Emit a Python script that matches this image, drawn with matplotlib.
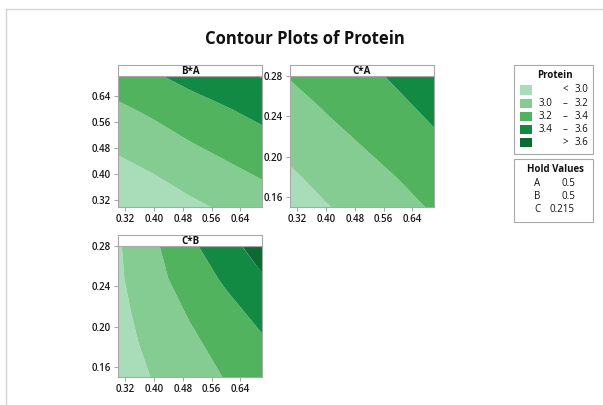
import numpy as np
import matplotlib
matplotlib.use("Agg")
import matplotlib.pyplot as plt
from matplotlib.patches import Rectangle
from matplotlib.lines import Line2D

plt.rcParams['font.family'] = ['Open Sans', 'DejaVu Sans']

# factor settings
ab_vals = [0.3, 0.4, 0.5, 0.6, 0.7]
c_vals = [0.15, 0.1825, 0.215, 0.2475, 0.28]

# protein (rows = y factor, cols = x factor)
z_ba = [[2.81, 2.88, 2.96, 3.03, 3.10],
        [2.93, 3.00, 3.08, 3.15, 3.22],
        [3.05, 3.12, 3.20, 3.27, 3.34],
        [3.17, 3.24, 3.32, 3.39, 3.46],
        [3.30, 3.38, 3.46, 3.53, 3.61]]
z_ca = [[2.91, 2.99, 3.06, 3.14, 3.22],
        [2.98, 3.06, 3.14, 3.21, 3.29],
        [3.06, 3.14, 3.21, 3.29, 3.37],
        [3.13, 3.21, 3.29, 3.36, 3.44],
        [3.21, 3.28, 3.35, 3.43, 3.51]]
z_cb = [[2.91, 3.01, 3.11, 3.21, 3.30],
        [2.93, 3.05, 3.16, 3.27, 3.37],
        [2.95, 3.09, 3.22, 3.34, 3.46],
        [2.97, 3.14, 3.29, 3.43, 3.58],
        [2.98, 3.17, 3.36, 3.53, 3.69]]

bounds = [0.0, 3.0, 3.2, 3.4, 3.6, 9.0]
colors = ['#a9dcb9', '#85cc93', '#52b35e', '#128a44', '#0c6a33']
leg_left = ['', '3.0', '3.2', '3.4', '']
leg_sign = ['<', '–', '–', '–', '>']
leg_right = ['3.0', '3.2', '3.4', '3.6', '3.6']
hold_names = ['A', 'B', 'C']
hold_vals = ['0.5', '0.5', '0.215']

ab_ticks = [0.32, 0.40, 0.48, 0.56, 0.64]
c_ticks = [0.16, 0.20, 0.24, 0.28]

W, H = 603, 405
fig = plt.figure(figsize=(W / 100, H / 100), dpi=100)
edge = '#a8a8a8'
fs = 7


def fx(px):
    return px / W


def fy(py):
    return 1 - py / H


def panel(l, t, r, b, x, y, z, title, ylim, yticks):
    ax = fig.add_axes([fx(l), fy(b), fx(r - l), (b - t) / H])
    ax.contourf(x, y, z, levels=bounds, colors=colors, antialiased=True)
    ax.set_xlim(0.3, 0.7)
    ax.set_ylim(*ylim)
    ax.set_xticks(ab_ticks)
    ax.set_xticklabels(['%.2f' % v for v in ab_ticks])
    ax.set_yticks(yticks)
    ax.set_yticklabels(['%.2f' % v for v in yticks])
    ax.tick_params(length=3, width=0.8, color=edge, labelsize=fs,
                   labelcolor='#1a1a1a', pad=2)
    for lab in ax.get_xticklabels() + ax.get_yticklabels():
        lab.set_fontweight('semibold')
    for s in ax.spines.values():
        s.set_color(edge)
        s.set_linewidth(0.8)
    st = fig.add_axes([fx(l), fy(t), fx(r - l), 11 / H])
    st.set_xticks([])
    st.set_yticks([])
    for s in st.spines.values():
        s.set_color(edge)
        s.set_linewidth(0.8)
    st.text(0.5, 0.45, title, ha='center', va='center', fontsize=fs,
            fontweight='bold', color='#111111', transform=st.transAxes)
    return ax


panel(118, 76, 262, 207, ab_vals, ab_vals, z_ba, 'B*A', (0.3, 0.7), ab_ticks)
panel(290, 76, 434, 207, ab_vals, c_vals, z_ca, 'C*A', (0.15, 0.28), c_ticks)
panel(118, 246, 262, 377, ab_vals, c_vals, z_cb, 'C*B', (0.15, 0.28), c_ticks)

fig.text(fx(305), fy(39), 'Contour Plots of Protein', ha='center', va='center',
         fontsize=12, fontweight='bold', color='#111111')

# outer frame (left + top)
fig.add_artist(Line2D([fx(6), fx(6)], [0, fy(9)], color='#d4d4d4', lw=1))
fig.add_artist(Line2D([fx(6), 1], [fy(9), fy(9)], color='#d4d4d4', lw=1))

# legend box
fig.add_artist(Rectangle((fx(514), fy(154)), fx(79), 89 / H, fill=False,
                         edgecolor=edge, lw=0.8, transform=fig.transFigure))
fig.text(fx(555), fy(75), 'Protein', ha='center', va='center', fontsize=fs,
         fontweight='bold', color='#111111')
for i in range(5):
    yc = 90 + i * 13.2
    fig.add_artist(Rectangle((fx(520), fy(yc + 4.5)), fx(12), 9 / H,
                             facecolor=colors[i], edgecolor='none',
                             transform=fig.transFigure))
    fig.text(fx(552), fy(yc), leg_left[i], ha='right', va='center',
             fontsize=fs, color='#111111')
    fig.text(fx(565), fy(yc), leg_sign[i], ha='center', va='center',
             fontsize=fs, color='#111111')
    fig.text(fx(588), fy(yc), leg_right[i], ha='right', va='center',
             fontsize=fs, color='#111111')

# hold values box
fig.add_artist(Rectangle((fx(514), fy(222)), fx(79), 63 / H, fill=False,
                         edgecolor=edge, lw=0.8, transform=fig.transFigure))
fig.text(fx(555), fy(169), 'Hold Values', ha='center', va='center',
         fontsize=fs, fontweight='bold', color='#111111')
for i in range(3):
    yc = 183 + i * 13.5
    fig.text(fx(537), fy(yc), hold_names[i], ha='center', va='center',
             fontsize=fs, color='#111111')
    fig.text(fx(575), fy(yc), hold_vals[i], ha='right', va='center',
             fontsize=fs, color='#111111')

fig.savefig('out.png', dpi=100)
